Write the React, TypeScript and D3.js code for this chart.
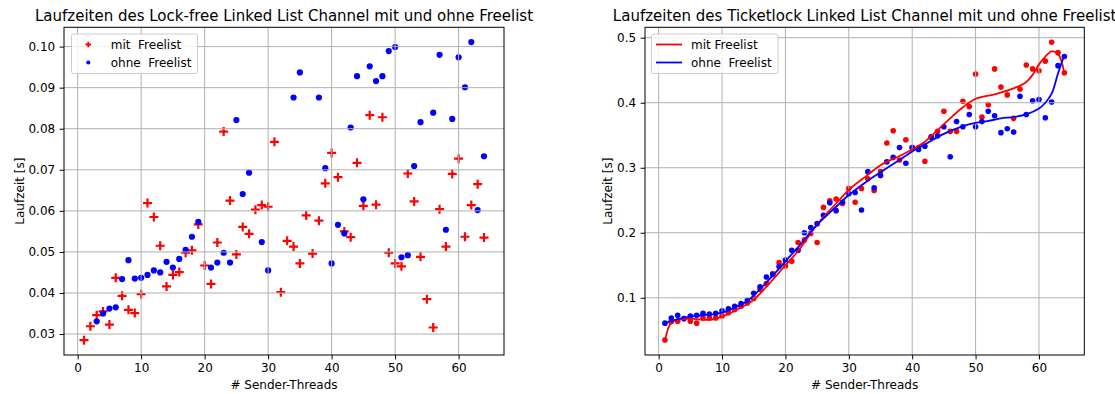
import React, { useEffect, useRef } from 'react';
import * as d3 from 'd3';

// Threads 1..64
const threads = d3.range(1, 65);

// Lock-free linked list channel
const lfMit = [
  0.0285, 0.0319, 0.0346, 0.0355, 0.0323, 0.0437, 0.0393, 0.0359, 0.0351, 0.0397,
  0.0619, 0.0585, 0.0515, 0.0416, 0.0444, 0.0451, 0.0498, 0.0504, 0.0567, 0.0467,
  0.0422, 0.0523, 0.0793, 0.0625, 0.0494, 0.0561, 0.0544, 0.0603, 0.0614, 0.0610,
  0.0768, 0.0402, 0.0527, 0.0513, 0.0472, 0.0589, 0.0496, 0.0576, 0.0667, 0.0741,
  0.0682, 0.0550, 0.0536, 0.0717, 0.0612, 0.0833, 0.0615, 0.0828, 0.0498, 0.0472,
  0.0465, 0.0691, 0.0623, 0.0488, 0.0385, 0.0316, 0.0604, 0.0513, 0.0690, 0.0727,
  0.0537, 0.0614, 0.0665, 0.0535,
];
// null = no point drawn
const lfOhne = [
  null, null, 0.0331, 0.0350, 0.0362, 0.0365, 0.0434, 0.0480, 0.0435, 0.0437,
  0.0444, 0.0455, 0.0450, 0.0476, 0.0462, 0.0483, 0.0505, 0.0537, 0.0573, null,
  0.0462, 0.0474, 0.0498, 0.0474, 0.0821, 0.0641, 0.0693, null, 0.0524, 0.0455,
  null, null, null, 0.0876, 0.0937, null, null, 0.0876, 0.0704, 0.0472,
  0.0566, 0.0545, 0.0803, 0.0928, 0.0628, 0.0952, 0.0916, 0.0928, 0.0989, 0.0999,
  0.0487, 0.0492, 0.0709, 0.0816, null, 0.0839, 0.0980, 0.0554, 0.0824, 0.0974,
  0.0901, 0.1011, 0.0602, 0.0733,
];

// Ticketlock linked list channel
const tlMit = [
  0.035, 0.063, 0.064, 0.068, 0.064, 0.061, 0.069, 0.069, 0.069, 0.072,
  0.077, 0.082, 0.087, 0.092, 0.099, 0.113, 0.122, 0.137, 0.154, 0.149,
  0.156, 0.185, 0.189, 0.199, 0.185, 0.239, 0.249, 0.252, 0.245, 0.268,
  0.247, 0.268, 0.283, 0.265, 0.294, 0.338, 0.357, 0.312, 0.343, 0.331,
  0.331, 0.310, 0.348, 0.356, 0.387, 0.356, 0.356, 0.402, 0.394, 0.444,
  0.378, 0.397, 0.452, 0.424, 0.412, 0.376, 0.421, 0.458, 0.452, 0.449,
  0.464, 0.493, 0.477, 0.446,
];
const tlOhne = [
  0.061, 0.069, 0.073, 0.068, 0.072, 0.073, 0.076, 0.075, 0.076, 0.080,
  0.083, 0.087, 0.091, 0.096, 0.107, 0.117, 0.132, 0.136, 0.148, 0.158,
  0.173, 0.173, 0.200, 0.208, 0.214, 0.227, 0.246, 0.234, 0.247, 0.260,
  0.262, 0.235, 0.294, 0.269, 0.288, 0.309, 0.316, 0.331, 0.307, 0.331,
  0.328, 0.333, 0.347, 0.349, 0.363, 0.317, 0.371, 0.363, 0.382, 0.363,
  0.371, 0.387, 0.380, 0.354, 0.360, 0.355, 0.410, 0.382, 0.403, 0.405,
  0.377, 0.401, 0.457, 0.471,
];

const fitMitX = [1, 2, 3, 5, 8, 10, 13, 15, 17, 20, 22, 25, 28, 30, 33, 35, 38, 40, 42, 45, 48, 50, 53, 56, 58, 59, 60, 61, 62, 63, 64];
const fitMitY = [0.035, 0.062, 0.066, 0.068, 0.066, 0.071, 0.085, 0.097, 0.117, 0.150, 0.172, 0.213, 0.245, 0.266, 0.289, 0.304, 0.318, 0.328, 0.340, 0.367, 0.393, 0.406, 0.413, 0.422, 0.432, 0.443, 0.459, 0.471, 0.479, 0.475, 0.446];
const fitOhneX = [1, 3, 5, 8, 10, 12, 14, 16, 18, 20, 22, 25, 28, 30, 33, 35, 38, 40, 42, 45, 48, 50, 52, 54, 56, 58, 60, 61, 62, 63, 64];
const fitOhneY = [0.061, 0.067, 0.071, 0.074, 0.077, 0.085, 0.095, 0.113, 0.134, 0.156, 0.178, 0.212, 0.240, 0.258, 0.280, 0.293, 0.312, 0.325, 0.336, 0.352, 0.364, 0.369, 0.372, 0.376, 0.378, 0.382, 0.391, 0.400, 0.414, 0.445, 0.473];

const xTicks = [0, 10, 20, 30, 40, 50, 60];
const lfYTicks = [0.03, 0.04, 0.05, 0.06, 0.07, 0.08, 0.09, 0.1];
const tlYTicks = [0.1, 0.2, 0.3, 0.4, 0.5];

const FONT = 'DejaVu Sans, sans-serif';
const FS = '12px';

const App = () => {
  const svgRef = useRef(null);

  useEffect(() => {
    const svg = d3.select(svgRef.current);
    svg.selectAll('*').remove();

    const top = 27.3;
    const bottom = 355;

    const drawAxes = (g, x, y, yTicks, yFmt, left, right, ylabX, title) => {
      // ticks
      const xa = g.append('g')
        .attr('transform', `translate(0,${bottom})`)
        .call(d3.axisBottom(x).tickValues(xTicks).tickSize(4.4).tickPadding(4.4).tickSizeOuter(0));
      xa.select('.domain').remove();
      xa.selectAll('text').style('font-size', FS).style('font-family', FONT).attr('fill', '#000');
      xa.selectAll('line').attr('stroke-width', 1);

      const ya = g.append('g')
        .attr('transform', `translate(${left},0)`)
        .call(d3.axisLeft(y).tickValues(yTicks).tickFormat(d3.format(yFmt)).tickSize(4.4).tickPadding(4.4).tickSizeOuter(0));
      ya.select('.domain').remove();
      ya.selectAll('text').style('font-size', FS).style('font-family', FONT).attr('fill', '#000');
      ya.selectAll('line').attr('stroke-width', 1);

      // labels
      g.append('text')
        .attr('x', (left + right) / 2)
        .attr('y', 389)
        .attr('text-anchor', 'middle')
        .style('font-size', FS)
        .style('font-family', FONT)
        .text('# Sender-Threads');

      g.append('text')
        .attr('transform', `translate(${ylabX},${(top + bottom) / 2}) rotate(-90)`)
        .attr('text-anchor', 'middle')
        .style('font-size', FS)
        .style('font-family', FONT)
        .text('Laufzeit [s]');

      g.append('text')
        .attr('x', (left + right) / 2)
        .attr('y', 20.5)
        .attr('text-anchor', 'middle')
        .style('font-size', '15px')
        .style('font-family', FONT)
        .text(title);
    };

    const drawGrid = (g, x, y, yTicks, left, right) => {
      g.selectAll('.vg').data(xTicks).enter().append('line')
        .attr('x1', d => x(d)).attr('x2', d => x(d))
        .attr('y1', top).attr('y2', bottom)
        .attr('stroke', '#b0b0b0').attr('stroke-width', 1);
      g.selectAll('.hg').data(yTicks).enter().append('line')
        .attr('x1', left).attr('x2', right)
        .attr('y1', d => y(d)).attr('y2', d => y(d))
        .attr('stroke', '#b0b0b0').attr('stroke-width', 1);
    };

    const drawFrame = (g, left, right) => {
      g.append('rect')
        .attr('x', left).attr('y', top)
        .attr('width', right - left).attr('height', bottom - top)
        .attr('fill', 'none').attr('stroke', 'black').attr('stroke-width', 1);
    };

    const plus = (sel, s, w) => sel
      .attr('d', `M${-s},0H${s}M0,${-s}V${s}`)
      .attr('stroke', 'red')
      .attr('stroke-width', w)
      .attr('fill', 'none');

    const legendText = (lg, x, y, t) => lg.append('text')
      .attr('x', x).attr('y', y)
      .style('font-size', FS).style('font-family', FONT)
      .style('white-space', 'pre').text(t);

    // ---------- left chart ----------
    {
      const left = 64, right = 504;
      const x = d3.scaleLinear().domain([-2.15, 67.15]).range([left, right]);
      const y = d3.scaleLinear().domain([0.0249, 0.1047]).range([bottom, top]);
      const g = svg.append('g');

      g.selectAll('.mit').data(threads).enter().append('path')
        .attr('transform', (d, i) => `translate(${x(d)},${y(lfMit[i])})`)
        .call(plus, 4.5, 2.2);

      g.selectAll('.ohne').data(threads.filter((d, i) => lfOhne[i] != null)).enter().append('circle')
        .attr('cx', d => x(d))
        .attr('cy', d => y(lfOhne[d - 1]))
        .attr('r', 3.1)
        .attr('fill', 'blue');

      drawGrid(g, x, y, lfYTicks, left, right);
      drawFrame(g, left, right);
      drawAxes(g, x, y, lfYTicks, '.2f', left, right, 24,
        'Laufzeiten des Lock-free Linked List Channel mit und ohne Freelist');

      // legend
      const lg = g.append('g');
      lg.append('rect')
        .attr('x', 71.5).attr('y', 34).attr('width', 126).attr('height', 39.5).attr('rx', 2)
        .attr('fill', 'white').attr('fill-opacity', 0.8).attr('stroke', '#cccccc').attr('stroke-width', 1);
      lg.append('path').attr('transform', 'translate(88.3,44.5)').call(plus, 2.8, 1.8);
      lg.append('circle').attr('cx', 88.3).attr('cy', 62.5).attr('r', 2.1).attr('fill', 'blue');
      legendText(lg, 110.7, 48.8, 'mit  Freelist');
      legendText(lg, 110.7, 66.8, 'ohne  Freelist');
    }

    // ---------- right chart ----------
    {
      const left = 645, right = 1084.3;
      const x = d3.scaleLinear().domain([-2.15, 67.15]).range([left, right]);
      const y = d3.scaleLinear().domain([0.012, 0.516]).range([bottom, top]);
      const g = svg.append('g');

      g.selectAll('.mit').data(threads).enter().append('circle')
        .attr('cx', d => x(d)).attr('cy', (d, i) => y(tlMit[i]))
        .attr('r', 2.8).attr('fill', 'red');
      g.selectAll('.ohne').data(threads).enter().append('circle')
        .attr('cx', d => x(d)).attr('cy', (d, i) => y(tlOhne[i]))
        .attr('r', 2.8).attr('fill', 'blue');

      drawGrid(g, x, y, tlYTicks, left, right);

      const line = d3.line().curve(d3.curveCatmullRom.alpha(0.5))
        .x(d => x(d[0])).y(d => y(d[1]));
      g.append('path')
        .attr('d', line(fitMitX.map((v, i) => [v, fitMitY[i]])))
        .attr('fill', 'none').attr('stroke', 'red').attr('stroke-width', 1.8);
      g.append('path')
        .attr('d', line(fitOhneX.map((v, i) => [v, fitOhneY[i]])))
        .attr('fill', 'none').attr('stroke', 'blue').attr('stroke-width', 1.8);

      drawFrame(g, left, right);
      drawAxes(g, x, y, tlYTicks, '.1f', left, right, 612,
        'Laufzeiten des Ticketlock Linked List Channel mit und ohne Freelist');

      const lg = g.append('g');
      lg.append('rect')
        .attr('x', 651.5).attr('y', 34).attr('width', 126.5).attr('height', 39.5).attr('rx', 2)
        .attr('fill', 'white').attr('fill-opacity', 0.8).attr('stroke', '#cccccc').attr('stroke-width', 1);
      lg.append('line').attr('x1', 656).attr('x2', 682).attr('y1', 44.5).attr('y2', 44.5)
        .attr('stroke', 'red').attr('stroke-width', 1.8);
      lg.append('line').attr('x1', 656).attr('x2', 682).attr('y1', 62.5).attr('y2', 62.5)
        .attr('stroke', 'blue').attr('stroke-width', 1.8);
      legendText(lg, 691, 48.8, 'mit Freelist');
      legendText(lg, 691, 66.8, 'ohne  Freelist');
    }
  }, []);

  return (
    <svg ref={svgRef} width={1115} height={394}
      style={{ position: 'absolute', left: 0, top: 0, backgroundColor: 'white' }}></svg>
  );
};

export default App;
